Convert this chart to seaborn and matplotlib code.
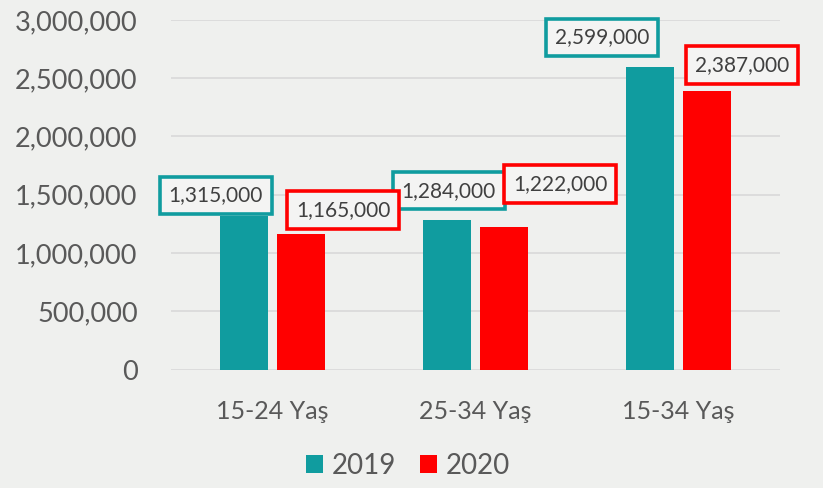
import matplotlib
matplotlib.use("Agg")
import matplotlib.pyplot as plt
import matplotlib.ticker as mticker
import pandas as pd
import seaborn as sns

# data
age_groups = ["15-24 Yaş", "25-34 Yaş", "15-34 Yaş"]
years = ["2019", "2020"]
values_2019 = [1315000, 1284000, 2599000]
values_2020 = [1165000, 1222000, 2387000]

colors = {"2019": "#109C9F", "2020": "#FF0000"}
bg = "#EFF0EE"

df = pd.DataFrame({
    "group": age_groups * 2,
    "year": ["2019"] * 3 + ["2020"] * 3,
    "value": values_2019 + values_2020,
})

sns.set_theme(style="white")
plt.rcParams["font.family"] = ["Lato", "DejaVu Sans"]

fig = plt.figure(figsize=(8.23, 4.88), dpi=100, facecolor=bg)
ax = fig.add_axes([171 / 823, 118.5 / 488, 609 / 823, 349.5 / 488])
ax.set_facecolor(bg)

sns.barplot(data=df, x="group", y="value", hue="year", hue_order=years,
            palette=colors, width=0.57, gap=0.17, saturation=1,
            linewidth=0, ax=ax, legend=True)

ax.set_xlim(-0.5, 2.5)
ax.set_ylim(0, 3000000)
ax.yaxis.set_major_locator(mticker.MultipleLocator(500000))
ax.yaxis.set_major_formatter(mticker.FuncFormatter(lambda v, p: f"{int(v):,}"))
ax.grid(axis="y", color="#D9D9D9", linewidth=1.2)
ax.set_axisbelow(True)
for s in ax.spines.values():
    s.set_visible(False)
ax.set_xlabel("")
ax.set_ylabel("")
ax.tick_params(axis="y", length=0, pad=24, labelsize=19.5, labelcolor="#595959")
ax.tick_params(axis="x", length=0, pad=22, labelsize=18, labelcolor="#595959")

# value labels in framed boxes (offsets in points from bar top)
offsets = {
    "2019": [(-20, 15), (1.5, 21), (-34, 21)],
    "2020": [(30, 17), (40, 31), (25, 19)],
}
for cont, yr in zip(ax.containers, years):
    for bar, (dx, dy) in zip(cont, offsets[yr]):
        h = bar.get_height()
        ax.annotate(f"{int(h):,}", xy=(bar.get_x() + bar.get_width() / 2, h),
                    xytext=(dx, dy), textcoords="offset points",
                    ha="center", va="center", fontsize=15, color="#404040",
                    bbox=dict(boxstyle="square,pad=0.42", fc="#F4F4F3",
                              ec=colors[yr], lw=2.6))

leg = ax.legend(loc="center", bbox_to_anchor=(0.389, -0.276), ncol=2,
                frameon=False, fontsize=20, handlelength=0.62, handleheight=0.62,
                handletextpad=0.32, columnspacing=0.86)
for t in leg.get_texts():
    t.set_color("#595959")

fig.savefig("out.png", dpi=100, facecolor=bg)
